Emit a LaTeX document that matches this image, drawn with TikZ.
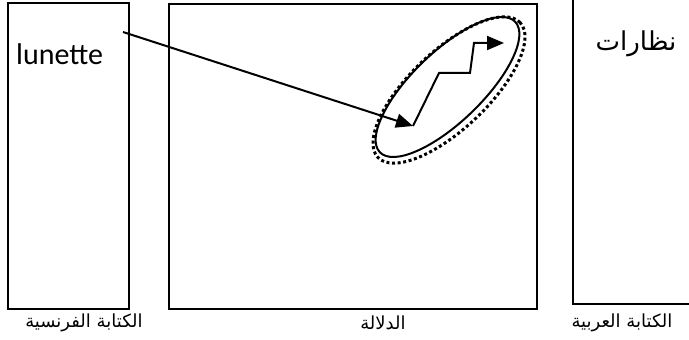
\documentclass[tikz,border=0pt]{standalone}
\usepackage{fontspec}
\setmainfont{Carlito}
\newfontfamily\arabicfont[Script=Arabic]{DejaVu Sans}
\TeXXeTstate=1
\usetikzlibrary{arrows.meta,positioning,shapes.geometric}

\begin{document}
\begin{tikzpicture}[
  x=1pt, y=1pt,
  panel/.style={draw, line width=2pt, inner sep=0pt, anchor=south west},
  caption/.style={font=\arabicfont\fontsize{18}{18}\selectfont, inner sep=0pt},
  arrow/.style={-{Triangle[length=17pt,width=14pt]}, line width=2pt},
  ring/.style={ellipse, draw, rotate=44, inner sep=0pt},
]
\useasboundingbox (0,0) rectangle (689,340);

% three panels
\node[panel, minimum width=121pt, minimum height=306pt] (fr) at (7,30) {};
\node[panel, minimum width=368pt, minimum height=305pt] (sem) at (168,30) {};
\node[panel, minimum width=140pt, minimum height=310pt] (ar) at (572,35) {};

% words
\node[font=\fontsize{30}{30}\selectfont, anchor=base west, inner sep=0pt] (lunette) at (16,275) {lunette};
\node[font=\arabicfont\fontsize{26}{26}\selectfont, inner sep=0pt] (nazarat) at (636,296) {\beginR نظارات\endR};

% captions
\node[caption] (capfr) at (84,17) {\beginR الكتابة الفرنسية\endR};
\node[caption] (capsem) at (383,17) {\beginR الدلالة\endR};
\node[caption] (capar) at (622,17) {\beginR الكتابة العربية\endR};

% meaning area
\node[ring, line width=2pt, minimum width=188pt, minimum height=70pt] (inner) at (447.5,253) {};
\node[ring, line width=3pt, dash pattern=on 3pt off 2.6pt, rotate=-0.5, minimum width=196pt, minimum height=78pt] (outer) at (449,250) {};

\coordinate (src) at (123,308);
\coordinate (hit) at (413,214);
\coordinate (z1) at (439,267);
\coordinate (z2) at (470,267);
\coordinate (z3) at (474,297);
\coordinate (goal) at (504,297);

\draw[arrow] (src) -- (hit);
\draw[arrow] (hit) -- (z1) -- (z2) -- (z3) -- (goal);

\end{tikzpicture}
\end{document}
